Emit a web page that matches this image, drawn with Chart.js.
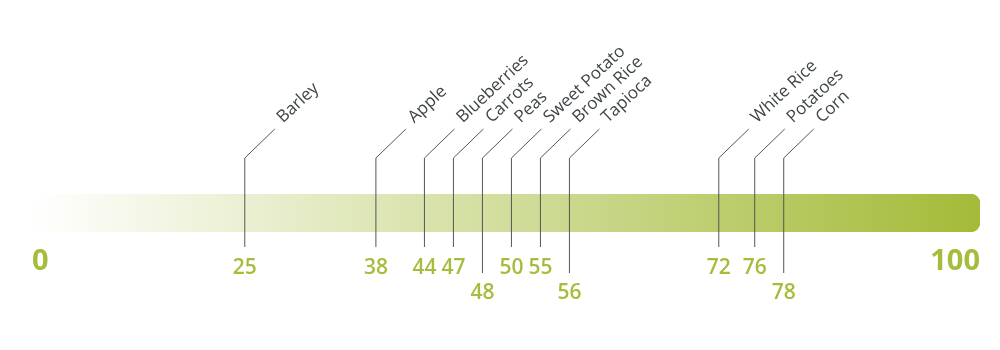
<!DOCTYPE html>
<html>
<head>
<meta charset="utf-8">
<script src="https://cdn.jsdelivr.net/npm/chart.js@4.4.0/dist/chart.umd.min.js"></script>
<style>
  html, body { margin: 0; padding: 0; background: #fff; }
  #wrap { width: 1000px; height: 350px; }
</style>
</head>
<body>
<div id="wrap"><canvas id="chart"></canvas></div>
<script>
const foods = ['Barley', 'Apple', 'Blueberries', 'Carrots', 'Peas', 'Sweet Potato', 'Brown Rice', 'Tapioca', 'White Rice', 'Potatoes', 'Corn'];
const giValues = [25, 38, 44, 47, 48, 50, 55, 56, 72, 76, 78];
const scaleEnds = [0, 100];

const green = '#a5bd3c';
const lineColor = '#555555';
const textColor = '#3e4548';

// push crowded labels apart, keeping each crowded group centred on its values
function spread(xs, gap) {
  let groups = xs.map(x => ({ n: 1, sum: x, start: x }));
  let merged = true;
  while (merged) {
    merged = false;
    for (let i = 0; i < groups.length - 1; i++) {
      const a = groups[i], b = groups[i + 1];
      if (a.start + a.n * gap > b.start) {
        const n = a.n + b.n, sum = a.sum + b.sum;
        groups.splice(i, 2, { n, sum, start: sum / n - (n - 1) * gap / 2 });
        merged = true;
        break;
      }
    }
  }
  const out = [];
  for (const g of groups) {
    for (let k = 0; k < g.n; k++) out.push(g.start + k * gap);
  }
  return out;
}

const markerPlugin = {
  id: 'markers',
  afterDatasetsDraw(chart) {
    const { ctx, chartArea, scales } = chart;
    const xs = spread(giValues.map(v => scales.gi.getPixelForValue(v)), 29);

    // a number drops to a second row when it sits right next to the previous one
    let lastUpper = -Infinity;
    const lower = giValues.map(v => {
      if (v - lastUpper <= 2) return true;
      lastUpper = v;
      return false;
    });

    const bend = chartArea.top - 36;
    const tip = bend - 29;

    ctx.save();
    xs.forEach((x, i) => {
      const bottom = chartArea.bottom + (lower[i] ? 41 : 15);
      ctx.beginPath();
      ctx.moveTo(x, bottom);
      ctx.lineTo(x, bend);
      ctx.lineTo(x + 30, tip);
      ctx.strokeStyle = lineColor;
      ctx.lineWidth = 1;
      ctx.stroke();

      ctx.fillStyle = green;
      ctx.font = '600 21px "Open Sans"';
      ctx.textAlign = 'center';
      ctx.textBaseline = 'middle';
      ctx.fillText(String(giValues[i]), x, chartArea.bottom + (lower[i] ? 61 : 36));

      ctx.save();
      ctx.translate(x + 35, tip - 9);
      ctx.rotate(-43 * Math.PI / 180);
      ctx.font = '500 17px "Open Sans"';
      ctx.fillStyle = textColor;
      ctx.textAlign = 'left';
      ctx.textBaseline = 'middle';
      ctx.fillText(foods[i], 0, 0);
      ctx.restore();
    });
    ctx.restore();
  }
};

new Chart(document.getElementById('chart'), {
  type: 'bar',
  data: {
    labels: ['GI'],
    datasets: [{
      data: [scaleEnds[1]],
      base: scaleEnds[0],
      backgroundColor: (c) => {
        const a = c.chart.chartArea;
        if (!a) return green;
        const g = c.chart.ctx.createLinearGradient(a.left, 0, a.right, 0);
        g.addColorStop(0, '#ffffff');
        g.addColorStop(1, '#a3bb38');
        return g;
      },
      borderRadius: 10,
      borderSkipped: 'start',
      barPercentage: 1,
      categoryPercentage: 1,
      xAxisID: 'x'
    }]
  },
  options: {
    indexAxis: 'y',
    responsive: true,
    maintainAspectRatio: false,
    animation: false,
    layout: { padding: { top: 194, left: 32, right: 20, bottom: 80 } },
    plugins: {
      legend: { display: false },
      tooltip: { enabled: false }
    },
    scales: {
      x: {
        min: scaleEnds[0],
        max: scaleEnds[1],
        ticks: {
          stepSize: 100,
          align: 'inner',
          color: green,
          padding: 4,
          font: { family: '"Open Sans"', size: 29, weight: 'bold' }
        },
        grid: { display: false },
        border: { display: false }
      },
      gi: { type: 'linear', axis: 'x', min: 3.9, max: 97.9, display: false },
      y: { display: false }
    }
  },
  plugins: [markerPlugin]
});
</script>
</body>
</html>
